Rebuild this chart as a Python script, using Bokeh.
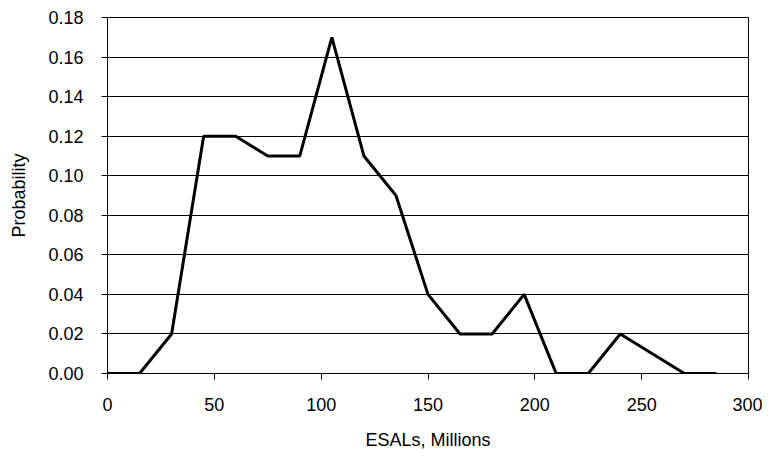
from bokeh.plotting import figure
from bokeh.models import FixedTicker, NumeralTickFormatter, Range1d
from bokeh.embed import file_html
from bokeh.resources import INLINE

esals = [0, 15, 30, 45, 60, 75, 90, 105, 120, 135, 150, 165, 180, 195, 210, 225, 240, 255, 270, 285]
prob = [0, 0, 0.02, 0.12, 0.12, 0.11, 0.11, 0.17, 0.11, 0.09, 0.04, 0.02, 0.02, 0.04, 0, 0, 0.02, 0.01, 0, 0]
x_ticks = [0, 50, 100, 150, 200, 250, 300]
y_ticks = [0, 0.02, 0.04, 0.06, 0.08, 0.10, 0.12, 0.14, 0.16, 0.18]

FONT = "Liberation Sans"

p = figure(width=762, height=452, output_backend="svg", toolbar_location=None,
           x_range=Range1d(0, 300), y_range=Range1d(0, 0.18),
           min_border_left=107, min_border_right=14, min_border_top=17, min_border_bottom=78)

p.line(esals, prob, line_color="black", line_width=3)

p.outline_line_color = "black"
p.outline_line_width = 1
p.background_fill_color = "white"
p.border_fill_color = "white"

p.xgrid.visible = False
p.ygrid.ticker = FixedTicker(ticks=y_ticks)
p.ygrid.grid_line_color = "black"
p.ygrid.grid_line_width = 1

for ax in (p.xaxis[0], p.yaxis[0]):
    ax.axis_line_color = "black"
    ax.major_tick_line_color = "black"
    ax.major_tick_out = 6
    ax.major_tick_in = 0
    ax.minor_tick_line_color = None
    ax.major_label_text_font = FONT
    ax.major_label_text_font_size = "18px"
    ax.major_label_text_color = "black"
    ax.axis_label_text_font = FONT
    ax.axis_label_text_font_size = "18px"
    ax.axis_label_text_font_style = "normal"
    ax.axis_label_text_color = "black"

p.xaxis[0].ticker = FixedTicker(ticks=x_ticks)
p.xaxis[0].major_label_standoff = 18
p.xaxis[0].axis_label = "ESALs, Millions"
p.xaxis[0].axis_label_standoff = 16

p.yaxis[0].ticker = FixedTicker(ticks=y_ticks)
p.yaxis[0].formatter = NumeralTickFormatter(format="0.00")
p.yaxis[0].major_label_standoff = 18
p.yaxis[0].axis_label = "Probability"
p.yaxis[0].axis_label_standoff = 16

open("out.html", "w").write(file_html(p, INLINE))
